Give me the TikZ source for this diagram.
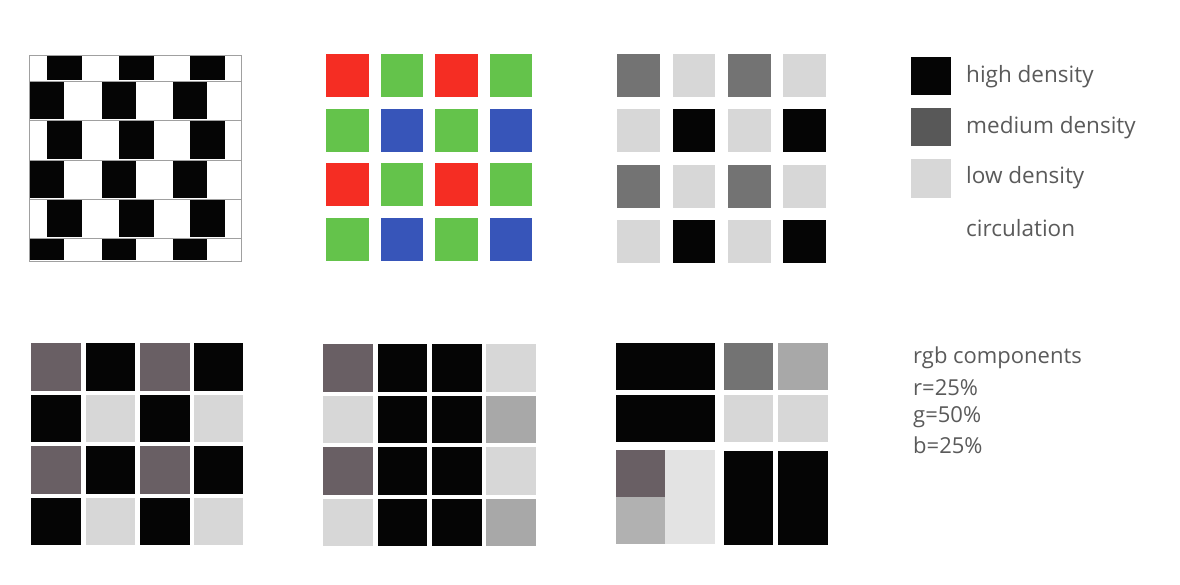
\documentclass[tikz,border=0pt]{standalone}
\usepackage{fontspec}
\setmainfont{Open Sans}
\definecolor{txt}{RGB}{90,90,90}
\definecolor{hi}{RGB}{5,5,5}
\definecolor{med}{RGB}{115,115,115}
\definecolor{legmed}{RGB}{88,88,88}
\definecolor{medp}{RGB}{105,95,100}
\definecolor{midl}{RGB}{168,168,168}
\definecolor{lo}{RGB}{215,215,215}
\definecolor{rr}{RGB}{245,45,35}
\definecolor{gg}{RGB}{100,195,75}
\definecolor{bb}{RGB}{55,85,185}
\definecolor{mortar}{RGB}{160,160,160}
\begin{document}
\begin{tikzpicture}[x=1pt,y=-1pt,
  lbl/.style={anchor=west,inner sep=0pt,text=txt,font=\fontsize{22.5}{26}\selectfont},
  lbl2/.style={anchor=west,inner sep=0pt,text=txt,font=\fontsize{22}{26}\selectfont},
  wallrow/.style={draw=mortar,line width=0.8pt}]
\useasboundingbox (0,0) rectangle (1180,585);
% ---------- cafe wall (top left)
\foreach \ya/\yb/\t in {55/81/0,81/120/1,120/160/0,160/199/1,199/238/0,238/261/1}{
  \ifnum\t=0
    \foreach \xa in {47,119,190}{\fill[hi] (\xa,\ya+0.5) rectangle (\xa+35,\yb-0.5);}
  \else
    \foreach \xa in {30,102,173}{\fill[hi] (\xa,\ya+0.5) rectangle (\xa+34,\yb-0.5);}
  \fi
}
\foreach \y in {81,120,160,199,238}{\draw[wallrow] (29,\y) -- (241,\y);}
\draw[wallrow] (29,55) rectangle (241,261);
% ---------- RGB grid (top middle)
\foreach \row/\ya in {0/54,1/108.7,2/163.4,3/218.1}{
  \foreach \col/\xa in {0/326,1/380.5,2/435,3/489.5}{
    \pgfmathtruncatemacro{\r}{mod(\row,2)}
    \pgfmathtruncatemacro{\c}{mod(\col,2)}
    \ifnum\r=0
      \ifnum\c=0 \def\cc{rr}\else\def\cc{gg}\fi
    \else
      \ifnum\c=0 \def\cc{gg}\else\def\cc{bb}\fi
    \fi
    \fill[\cc] (\xa,\ya) rectangle (\xa+42.5,\ya+43);
  }
}
% ---------- density grid (top right)
\foreach \row/\ya in {0/54,1/109.5,2/165,3/220}{
  \foreach \col/\xa in {0/617,1/672.5,2/728,3/783}{
    \pgfmathtruncatemacro{\r}{mod(\row,2)}
    \pgfmathtruncatemacro{\c}{mod(\col,2)}
    \ifnum\r=0
      \ifnum\c=0 \def\cc{med}\else\def\cc{lo}\fi
    \else
      \ifnum\c=0 \def\cc{lo}\else\def\cc{hi}\fi
    \fi
    \fill[\cc] (\xa,\ya) rectangle (\xa+42.5,\ya+43);
  }
}
% ---------- legend
\fill[hi] (911,57) rectangle (951,95);
\fill[legmed] (911,108) rectangle (951,146);
\fill[lo] (911,159) rectangle (951,198);
\fill[white] (911,210) rectangle (951,248);
\node[lbl] (l1) at (966,77) {high density};
\node[lbl] (l2) at (966,128) {medium density};
\node[lbl] (l3) at (966,178) {low density};
\node[lbl] (l4) at (966,228) {circulation};
% ---------- bottom left
\foreach \row/\ya in {0/343,1/394.5,2/446,3/497.5}{
  \foreach \col/\xa in {0/31,1/85.5,2/140,3/193.5}{
    \pgfmathtruncatemacro{\r}{mod(\row,2)}
    \pgfmathtruncatemacro{\c}{mod(\col,2)}
    \ifnum\r=0
      \ifnum\c=0 \def\cc{medp}\else\def\cc{hi}\fi
    \else
      \ifnum\c=0 \def\cc{hi}\else\def\cc{lo}\fi
    \fi
    \fill[\cc] (\xa,\ya) rectangle (\xa+49.5,\ya+47.5);
  }
}
% ---------- bottom middle
\foreach \row/\ya in {0/344,1/395.5,2/447,3/498.5}{
  \foreach \col/\xa in {0/323,1/377.5,2/432,3/486}{
    \pgfmathtruncatemacro{\r}{mod(\row,2)}
    \ifnum\col=1 \def\cc{hi}\fi
    \ifnum\col=2 \def\cc{hi}\fi
    \ifnum\col=0 \ifnum\r=0 \def\cc{medp}\else\def\cc{lo}\fi\fi
    \ifnum\col=3 \ifnum\r=0 \def\cc{lo}\else\def\cc{midl}\fi\fi
    \fill[\cc] (\xa,\ya) rectangle (\xa+49.5,\ya+47.5);
  }
}
% ---------- bottom right
\fill[hi] (616,343) rectangle (715,390);
\fill[hi] (616,395) rectangle (715,442);
\fill[med] (724,343) rectangle (773,390);
\fill[midl] (778,343) rectangle (828,390);
\fill[lo] (724,395) rectangle (773,442);
\fill[lo] (778,395) rectangle (828,442);
\fill[medp] (616,450) rectangle (665,497);
\fill[midl!90!white] (616,497) rectangle (665,544);
\fill[lo!70!white] (665,450) rectangle (715,544);
\fill[hi] (724,451) rectangle (773,545);
\fill[hi] (778,451) rectangle (828,545);
% ---------- rgb text
\node[lbl2] (t1) at (913,358) {rgb components};
\node[lbl2] (t2) at (913,388) {r=25\%};
\node[lbl2] (t3) at (913,417) {g=50\%};
\node[lbl2] (t4) at (913,445) {b=25\%};
\end{tikzpicture}
\end{document}
